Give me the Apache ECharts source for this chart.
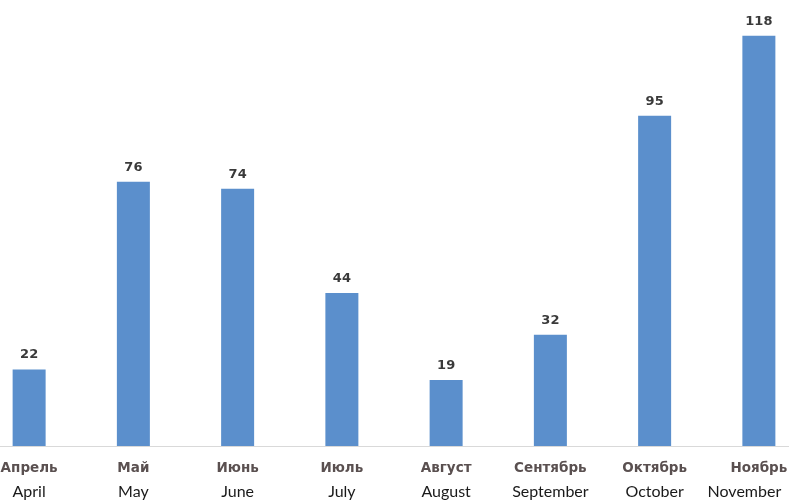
<!DOCTYPE html>
<html><head><meta charset="utf-8">
<script src="https://cdn.jsdelivr.net/npm/echarts@6/dist/echarts.min.js"></script>
<style>html,body{margin:0;padding:0;background:#fff;overflow:hidden;width:789px;height:501px}#c{position:absolute;left:-22.6px;top:0;width:834.2px;height:501px}</style>
</head><body><div id="c"></div>
<script>
const categoriesRu = ['Апрель','Май','Июнь','Июль','Август','Сентябрь','Октябрь','Ноябрь'];
const categoriesEn = ['April','May','June','July','August','September','October','November'];
const values = [22, 76, 74, 44, 19, 32, 95, 118];

const chart = echarts.init(document.getElementById('c'));
const last = categoriesRu.length - 1;
chart.setOption({
  animation: false,
  grid: {left: 0, right: 0, top: 28.7, bottom: 55, containLabel: false, outerBoundsMode: 'none'},
  xAxis: {
    type: 'category',
    data: categoriesRu.map((r, i) => r + '\n' + categoriesEn[i]),
    axisTick: {show: false},
    axisLine: {lineStyle: {color: '#d9d9d9', width: 1}},
    axisLabel: {
      interval: 0, margin: 10, hideOverlap: false,
      formatter: (v, i) => { const p = v.split('\n'); return '{ru|' + p[0] + '}\n{' + (i === last ? 'enL' : 'en') + '|' + p[1] + '}'; },
      rich: {
        ru: {fontFamily: 'DejaVu Sans', fontWeight: 'bold', fontSize: 13.5, color: '#5a5050', lineHeight: 24},
        en: {fontFamily: 'Lato', fontSize: 16, color: '#1a1a1a', lineHeight: 24},
        enL: {fontFamily: 'Lato', fontSize: 16, color: '#1a1a1a', lineHeight: 24, padding: [0, 29, 0, 0]}
      }
    }
  },
  yAxis: {type: 'value', min: 0, max: 120, show: false, splitLine: {show: false}},
  series: [{
    type: 'bar', data: values, barWidth: 33,
    itemStyle: {color: '#5b8fcc'},
    label: {show: true, position: 'top', distance: 8, fontFamily: 'DejaVu Sans', fontWeight: 'bold', fontSize: 13, color: '#3a3a3a'}
  }]
});
</script></body></html>
